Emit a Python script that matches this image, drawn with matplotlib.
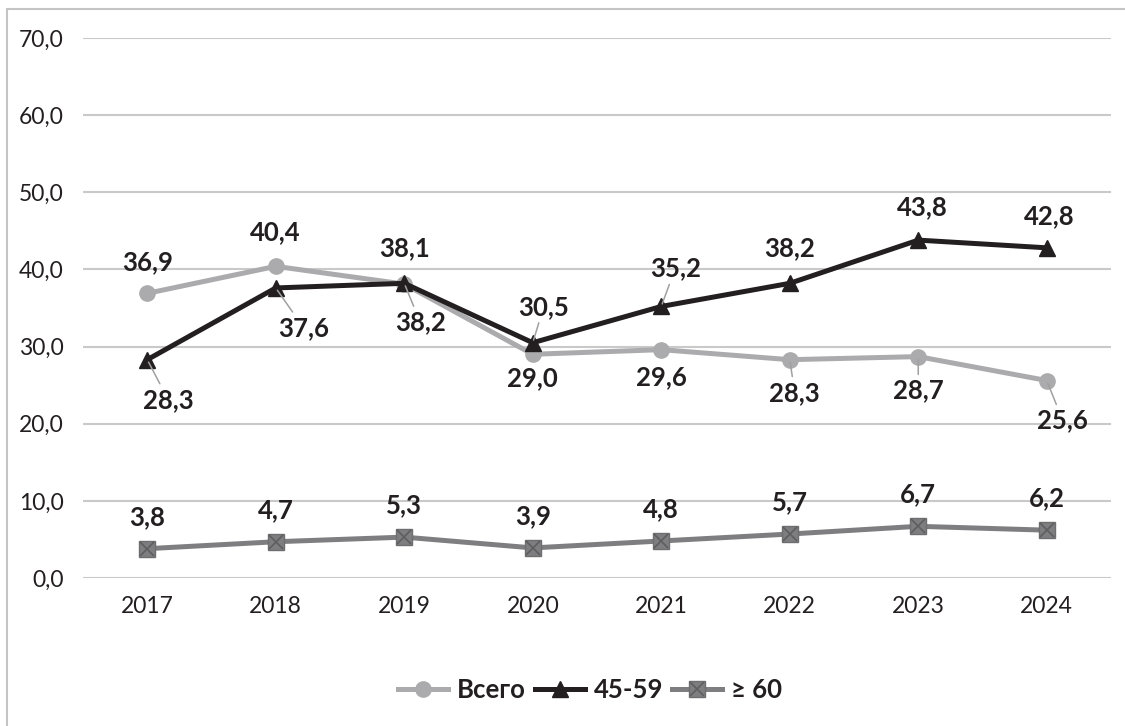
import matplotlib
matplotlib.use("Agg")
import matplotlib.pyplot as plt
from matplotlib.lines import Line2D
from matplotlib.patches import Rectangle
from matplotlib.legend_handler import HandlerTuple

plt.rcParams['font.family'] = ['Lato', 'DejaVu Sans']

years = ["2017", "2018", "2019", "2020", "2021", "2022", "2023", "2024"]
total = [36.9, 40.4, 38.1, 29.0, 29.6, 28.3, 28.7, 25.6]
age_45_59 = [28.3, 37.6, 38.2, 30.5, 35.2, 38.2, 43.8, 42.8]
age_60 = [3.8, 4.7, 5.3, 3.9, 4.8, 5.7, 6.7, 6.2]
y_ticks = [0, 10, 20, 30, 40, 50, 60, 70]

c_total = "#ABABAD"
c_mid = "#231F20"
c_old = "#7E7E80"
c_grid = "#C9C9C9"

fig = plt.figure(figsize=(11.25, 7.26), dpi=100)
ax = fig.add_axes([83 / 1125, 1 - 578 / 726, 1028 / 1125, 540 / 726])

x = list(range(len(years)))

ax.plot(x, total, color=c_total, lw=3.6, marker='o', ms=11, zorder=3)
ax.plot(x, age_45_59, color=c_mid, lw=3.6, marker='^', ms=12, zorder=4)
ax.plot(x, age_60, color=c_old, lw=3.6, marker='s', ms=11.5,
        markeredgecolor="#6E6E70", zorder=3)
ax.plot(x, age_60, ls='none', marker='x', ms=10, mew=1.2, color="#5E5E60", zorder=3.5)

ax.set_xlim(-0.5, len(years) - 0.5)
ax.set_ylim(0, 70)
ax.set_yticks(y_ticks)
ax.set_yticklabels([f"{v:.1f}".replace('.', ',') for v in y_ticks])
ax.set_xticks(x)
ax.set_xticklabels(years)
ax.grid(axis='y', color=c_grid, lw=1.5)
ax.set_axisbelow(True)
for s in ax.spines.values():
    s.set_visible(False)
ax.tick_params(length=0, labelsize=16.5, colors="#231F20")
ax.tick_params(axis='y', pad=14)
ax.tick_params(axis='x', pad=13)


def fmt(v):
    return f"{v:.1f}".replace('.', ',')


def label_series(vals, offsets, leaders):
    for i, v in enumerate(vals):
        dx, dy = offsets[i]
        kw = {}
        if i in leaders:
            kw['arrowprops'] = dict(arrowstyle='-', color="#A0A0A0", lw=1.1,
                                    shrinkA=1, shrinkB=2)
        ax.annotate(fmt(v), (i, v), xytext=(dx, dy), textcoords='offset pixels',
                    ha='center', va='center', fontsize=18.5, fontweight='bold',
                    color="#231F20", zorder=6, **kw)


label_series(total,
             [(0, 31), (0, 34), (0, 36), (0, -24), (0, -27), (5, -33), (0, -34), (16, -40)],
             {5, 6, 7})
label_series(age_45_59,
             [(21, -40), (28, -40), (16, -39), (11, 36), (14, 38), (0, 35), (4, 33), (3, 32)],
             {0, 1, 2, 3, 4})
label_series(age_60, [(0, 32)] * 8, set())

# outer frame
fig.add_artist(Rectangle((7 / 1125, -0.05), 1.05, 1 - 9 / 726 + 0.05,
                         transform=fig.transFigure, fill=False,
                         edgecolor="#C4C4C4", lw=1.5))

h_total = Line2D([], [], color=c_total, lw=3.6, marker='o', ms=11)
h_mid = Line2D([], [], color=c_mid, lw=3.6, marker='^', ms=12)
h_old_sq = Line2D([], [], color=c_old, lw=3.6, marker='s', ms=11.5, markeredgecolor="#6E6E70")
h_old_x = Line2D([], [], ls='none', marker='x', ms=10, mew=1.2, color="#5E5E60")
leg = fig.legend([h_total, h_mid, (h_old_sq, h_old_x)], ["Всего", "45-59", "≥ 60"],
                 loc='center', bbox_to_anchor=(590 / 1125, 1 - 690 / 726), ncol=3,
                 frameon=False, handlelength=1.95, columnspacing=0.35, handletextpad=0.35,
                 prop=dict(size=18.5, weight='bold'),
                 handler_map={tuple: HandlerTuple(ndivide=1)})
for t in leg.get_texts():
    t.set_color("#231F20")

fig.savefig("out.png", dpi=100, facecolor="white")
